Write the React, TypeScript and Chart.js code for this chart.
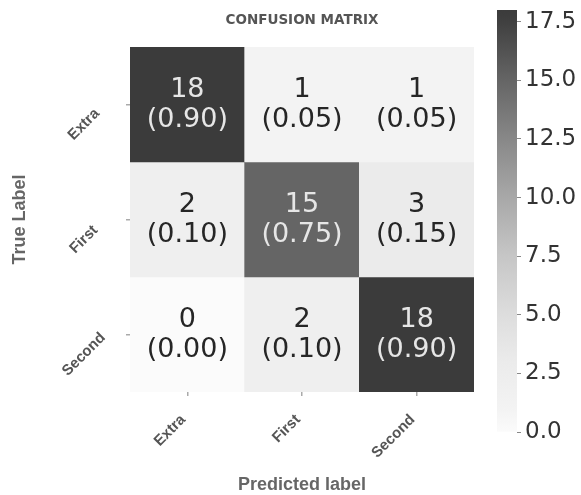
import React, { useEffect, useRef } from "react";
import { Chart, registerables } from "chart.js";

Chart.register(...registerables);

const predLabels = ["Extra", "First", "Second"];
const trueLabels = ["Extra", "First", "Second"];
const counts = [
  [18, 1, 1],
  [2, 15, 3],
  [0, 2, 18],
];
const fractions = [
  [0.9, 0.05, 0.05],
  [0.1, 0.75, 0.15],
  [0.0, 0.1, 0.9],
];
const colorMin = 0;
const colorMax = 18;
const colorbarTicks = [0, 2.5, 5, 7.5, 10, 12.5, 15, 17.5];

// gray colormap stops: [fraction, gray level]
const cmapStops: [number, number][] = [
  [0, 251],
  [0.056, 243],
  [0.111, 239],
  [0.167, 235],
  [0.278, 221],
  [0.417, 198],
  [0.556, 168],
  [0.694, 136],
  [0.833, 101],
  [0.972, 64],
  [1, 59],
];

function grayAt(t: number): string {
  const x = Math.max(0, Math.min(1, t));
  for (let i = 1; i < cmapStops.length; i++) {
    const [t1, g1] = cmapStops[i];
    const [t0, g0] = cmapStops[i - 1];
    if (x <= t1) {
      const g = Math.round(g0 + ((x - t0) / (t1 - t0)) * (g1 - g0));
      return `rgb(${g},${g},${g})`;
    }
  }
  const g = cmapStops[cmapStops.length - 1][1];
  return `rgb(${g},${g},${g})`;
}

const W = 581;
const H = 495;

export default function App() {
  const mainRef = useRef<HTMLCanvasElement | null>(null);
  const barRef = useRef<HTMLCanvasElement | null>(null);

  useEffect(() => {
    if (!mainRef.current || !barRef.current) return;

    const cellText = {
      id: "cellText",
      afterDatasetsDraw(chart: any) {
        const ctx = chart.ctx;
        ctx.save();
        ctx.textAlign = "center";
        ctx.textBaseline = "middle";
        ctx.font = '27px "DejaVu Sans"';
        chart.data.datasets.forEach((ds: any, r: number) => {
          const meta = chart.getDatasetMeta(r);
          meta.data.forEach((bar: any, c: number) => {
            const cx = bar.x;
            const cy = (bar.y + bar.base) / 2;
            const v = counts[r][c];
            ctx.fillStyle = v > (colorMax - colorMin) / 2 ? "#e6e6e6" : "#262626";
            ctx.fillText(String(v), cx, cy - 15);
            ctx.fillText(`(${fractions[r][c].toFixed(2)})`, cx, cy + 15);
          });
        });
        ctx.restore();
      },
    };

    const main = new Chart(mainRef.current, {
      type: "bar",
      data: {
        labels: predLabels,
        datasets: trueLabels.map((lab, r) => ({
          label: lab,
          data: counts[r].map(() => [r, r + 1]),
          backgroundColor: counts[r].map((v) => grayAt((v - colorMin) / (colorMax - colorMin))),
          borderWidth: 0,
          barPercentage: 1,
          categoryPercentage: 1,
          grouped: false,
        })),
      } as any,
      options: {
        animation: false,
        responsive: false,
        layout: { padding: { left: 0, right: 107, top: 0, bottom: 0 } },
        plugins: {
          legend: { display: false },
          tooltip: { enabled: false },
          title: {
            display: true,
            text: "CONFUSION MATRIX",
            fullSize: false,
            color: "#555",
            font: { family: "DejaVu Sans", size: 13.5, weight: "bold" },
            padding: { top: 12.5, bottom: 18.3 },
          },
        },
        scales: {
          x: {
            type: "category",
            offset: true,
            grid: {
              offset: false,
              drawOnChartArea: false,
              drawTicks: true,
              tickLength: 4,
              color: "#aaa",
              lineWidth: 1.5,
            },
            border: { display: false },
            ticks: {
              minRotation: 45,
              maxRotation: 45,
              padding: 15,
              labelOffset: -4,
              color: "#555",
              font: { family: "Liberation Sans", size: 15, weight: "bold" },
            },
            title: {
              display: true,
              text: "Predicted label",
              color: "#666",
              font: { family: "Liberation Sans", size: 18, weight: "bold" },
              padding: { top: 0, bottom: -1 },
            },
            afterFit: (scale: any) => {
              scale.height = 103;
              scale.paddingLeft = 0;
              scale.paddingRight = 0;
            },
          },
          y: {
            type: "linear",
            min: 0,
            max: 3,
            reverse: true,
            afterBuildTicks: (scale: any) => {
              scale.ticks = trueLabels.map((_, i) => ({ value: i + 0.5 }));
            },
            grid: {
              drawOnChartArea: false,
              drawTicks: true,
              tickLength: 4,
              color: "#aaa",
              lineWidth: 1.5,
            },
            border: { display: false },
            ticks: {
              minRotation: 45,
              maxRotation: 45,
              crossAlign: "center",
              padding: 15,
              labelOffset: 20,
              color: "#555",
              font: { family: "Liberation Sans", size: 15, weight: "bold" },
              callback: (_v: any, i: number) => trueLabels[i],
            },
            title: {
              display: true,
              text: "True Label",
              color: "#666",
              font: { family: "Liberation Sans", size: 18, weight: "bold" },
              padding: { top: 9, bottom: 0 },
            },
            afterFit: (scale: any) => {
              scale.width = 130;
              scale.paddingTop = 0;
              scale.paddingBottom = 0;
            },
          },
        },
      } as any,
      plugins: [cellText],
    });

    const bar = new Chart(barRef.current, {
      type: "bar",
      data: {
        labels: [""],
        datasets: [
          {
            data: [[colorMin, colorMax]],
            borderWidth: 0,
            barPercentage: 1,
            categoryPercentage: 1,
            backgroundColor: (ctx: any) => {
              const area = ctx.chart.chartArea;
              if (!area) return "#999";
              const g = ctx.chart.ctx.createLinearGradient(0, area.bottom, 0, area.top);
              cmapStops.forEach(([t, v]) => g.addColorStop(t, `rgb(${v},${v},${v})`));
              return g;
            },
          },
        ],
      } as any,
      options: {
        animation: false,
        responsive: false,
        layout: { padding: { left: 0, right: 0, top: 10, bottom: 63 } },
        plugins: { legend: { display: false }, tooltip: { enabled: false } },
        scales: {
          x: { display: false },
          y: {
            type: "linear",
            position: "right",
            min: colorMin,
            max: colorMax,
            afterBuildTicks: (scale: any) => {
              scale.ticks = colorbarTicks.map((v) => ({ value: v }));
            },
            grid: {
              drawOnChartArea: false,
              drawTicks: true,
              tickLength: 4,
              color: "#888",
            },
            border: { display: false },
            ticks: {
              padding: 4,
              color: "#333",
              font: { family: "DejaVu Sans", size: 23 },
              callback: (v: any) => Number(v).toFixed(1),
            },
            afterFit: (scale: any) => {
              scale.width = 64;
              scale.paddingTop = 0;
              scale.paddingBottom = 0;
            },
          },
        },
      } as any,
    });

    return () => {
      main.destroy();
      bar.destroy();
    };
  }, []);

  return (
    <div style={{ position: "absolute", left: 0, top: 0, width: W, height: H, background: "#fff" }}>
      <canvas
        ref={mainRef}
        width={W}
        height={H}
        style={{ position: "absolute", left: 0, top: 0, width: W, height: H }}
      />
      <canvas
        ref={barRef}
        width={84}
        height={H}
        style={{ position: "absolute", left: 497, top: 0, width: 84, height: H }}
      />
    </div>
  );
}
